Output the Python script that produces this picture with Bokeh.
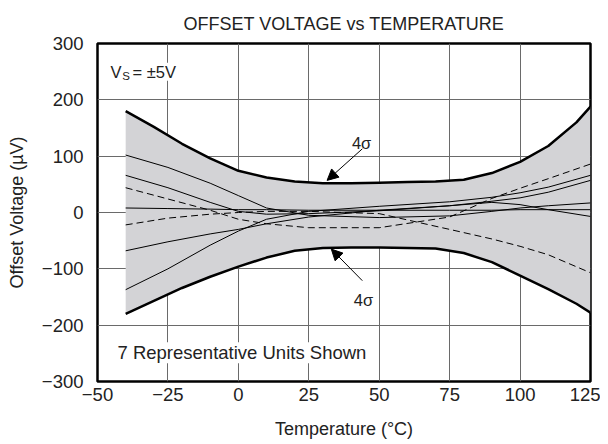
from bokeh.plotting import figure
from bokeh.models import Range1d, FixedTicker, Label, Arrow, NormalHead
from bokeh.embed import file_html
from bokeh.resources import INLINE

# ---- data ----
temp = [-40, -25, -10, 0, 10, 25, 50, 75, 90, 100, 110, 125]
unit_1 = [102, 80, 52, 30, 8, -5, -9, -6, 2, 8, 12, 17]
unit_2 = [66, 44, 18, 2, -3, -2, 3, 12, 18, 14, 5, -7]
unit_3 = [8, 7, 6, 5, 5, 4, 4, 4, 4, 5, 5, 5]
unit_4 = [-68, -52, -38, -30, -20, -8, 4, 12, 20, 26, 36, 57]
unit_5 = [-137, -100, -58, -33, -12, 2, 11, 19, 27, 35, 45, 66]
unit_6_dashed = [44, 24, 4, -12, -20, -27, -27, -8, 25, 43, 60, 86]
unit_7_dashed = [-22, -10, -3, 0, 2, 2, -2, -30, -47, -60, -75, -107]

bound_t = [-40, -30, -20, -10, 0, 10, 20, 30, 40, 50, 60, 70, 80, 90, 100, 110, 120, 125]
upper_4s = [180, 152, 122, 96, 74, 62, 55, 52, 52, 53, 54, 55, 58, 70, 90, 118, 160, 188]
lower_4s = [-180, -157, -134, -114, -96, -80, -68, -63, -62, -62, -63, -64, -72, -88, -112, -136, -162, -178]

x_ticks = [-50, -25, 0, 25, 50, 75, 100, 125]
x_tick_labels = ["\u221250", "\u221225", "0", "25", "50", "75", "100", "125"]
y_ticks = [-300, -200, -100, 0, 100, 200, 300]
y_tick_labels = ["\u2212300", "\u2212200", "\u2212100", "0", "100", "200", "300"]

TITLE = "OFFSET VOLTAGE vs TEMPERATURE"
FONT = "Liberation Sans"
TXT = "#222222"

p = figure(width=600, height=444, x_range=Range1d(-50, 125), y_range=Range1d(-300, 300),
           output_backend="svg", toolbar_location=None,
           min_border_left=97, min_border_right=10, min_border_top=43, min_border_bottom=63)

p.title.text = TITLE
p.title.align = "center"
p.title.text_font = FONT
p.title.text_font_size = "18px"
p.title.text_font_style = "normal"
p.title.text_color = TXT
p.title.standoff = 19

p.background_fill_color = "white"
p.border_fill_color = "white"
p.outline_line_color = "black"
p.outline_line_width = 2.5

# shaded 4-sigma band
p.varea(x=bound_t, y1=lower_4s, y2=upper_4s, fill_color="#d3d3d6")

for ys in [unit_1, unit_2, unit_3, unit_4, unit_5]:
    p.line(temp, ys, line_color="black", line_width=1)
for ys in [unit_6_dashed, unit_7_dashed]:
    p.line(temp, ys, line_color="black", line_width=1, line_dash="7 4")

p.line(bound_t, upper_4s, line_color="black", line_width=2.5)
p.line(bound_t, lower_4s, line_color="black", line_width=2.5)

# axes
p.xaxis.ticker = FixedTicker(ticks=x_ticks)
p.yaxis.ticker = FixedTicker(ticks=y_ticks)
p.xaxis.major_label_overrides = dict(zip(x_ticks, x_tick_labels))
p.yaxis.major_label_overrides = dict(zip(y_ticks, y_tick_labels))
for ax in [p.xaxis[0], p.yaxis[0]]:
    ax.axis_line_color = None
    ax.major_tick_in = 0
    ax.major_tick_out = 0
    ax.minor_tick_line_color = None
    ax.major_label_text_font = FONT
    ax.major_label_text_font_size = "18.5px"
    ax.major_label_text_color = TXT
    ax.axis_label_text_font = FONT
    ax.axis_label_text_font_size = "18px"
    ax.axis_label_text_font_style = "normal"
    ax.axis_label_text_color = TXT
p.xaxis.major_label_standoff = 6
p.yaxis.major_label_standoff = 14
p.xaxis.axis_label = "Temperature (\u00b0C)"
p.yaxis.axis_label = "Offset Voltage (\u00b5V)"
p.xaxis.axis_label_standoff = 15
p.yaxis.axis_label_standoff = 12

p.xgrid.ticker = FixedTicker(ticks=x_ticks)
p.ygrid.ticker = FixedTicker(ticks=y_ticks)
p.grid.grid_line_color = "#6a6a6a"
p.grid.grid_line_width = 1

# annotations
p.add_layout(Label(x=-45.4, y=250, text="V", text_font=FONT, text_font_size="16.5px",
                   text_baseline="alphabetic", text_color=TXT))
p.add_layout(Label(x=-41.2, y=242, text="S", text_font=FONT, text_font_size="11.5px",
                   text_baseline="alphabetic", text_color=TXT))
p.add_layout(Label(x=-37.6, y=250, text="= \u00b15V", text_font=FONT, text_font_size="16.5px",
                   text_baseline="alphabetic", text_color=TXT, background_fill_color="white"))

p.add_layout(Label(x=40.3, y=124, text="4\u03c3", text_font=FONT, text_font_size="16.5px",
                   text_baseline="alphabetic", text_color=TXT))
p.add_layout(Label(x=41, y=-155, text="4\u03c3", text_font=FONT, text_font_size="16.5px",
                   text_baseline="alphabetic", text_color=TXT))

p.add_layout(Arrow(end=NormalHead(size=11, fill_color="black", line_color="black"),
                   x_start=44, y_start=113, x_end=31.5, y_end=57,
                   line_color="black", line_width=1))
p.add_layout(Arrow(end=NormalHead(size=11, fill_color="black", line_color="black"),
                   x_start=44, y_start=-121, x_end=33, y_end=-65,
                   line_color="black", line_width=1))

p.add_layout(Label(x=-42.9, y=-249, text="7 Representative Units Shown", text_font=FONT,
                   text_font_size="18.5px", text_baseline="alphabetic", text_color=TXT,
                   background_fill_color="white"))

open("out.html", "w").write(file_html(p, INLINE))
